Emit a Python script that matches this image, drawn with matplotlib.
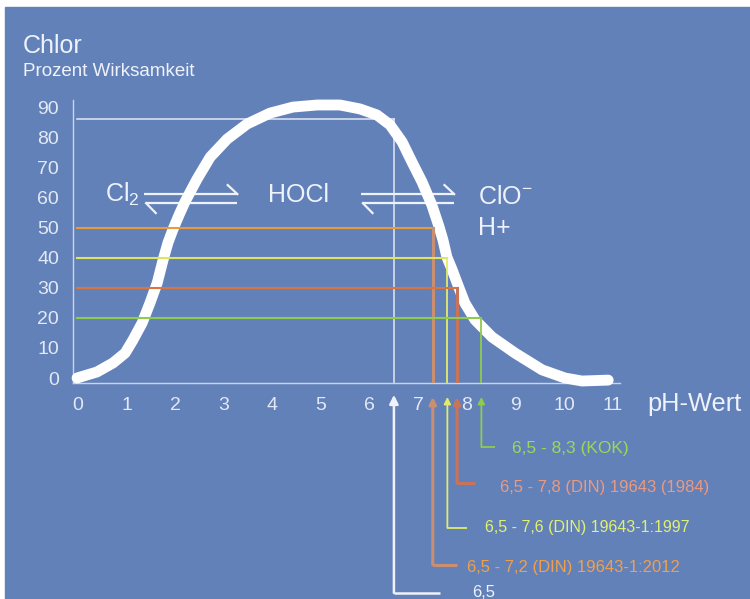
import matplotlib
matplotlib.use('Agg')
import matplotlib.pyplot as plt
from matplotlib.patches import Rectangle

plt.rcParams['font.family'] = ['Liberation Sans', 'DejaVu Sans']
plt.rcParams['mathtext.fontset'] = 'custom'
plt.rcParams['mathtext.rm'] = 'Liberation Sans'
plt.rcParams['mathtext.it'] = 'Liberation Sans'

# Wirksamkeit von Chlor (Prozent) ueber pH
ph = [-0.02, 0.39, 0.72, 0.97, 1.13, 1.32, 1.48, 1.63, 1.75, 1.85, 1.95, 2.08, 2.20,
      2.45, 2.72, 3.07, 3.48, 3.95, 4.42, 4.92, 5.39, 5.80, 6.15, 6.42, 6.67, 6.87,
      7.08, 7.28, 7.43, 7.51, 7.59, 7.70, 7.80, 7.96, 8.17, 8.52, 8.99, 9.55, 10.02,
      10.37, 10.91]
wirk = [0.0, 2.0, 5.0, 8.3, 12.6, 18.3, 24.9, 31.6, 39.2, 44.9, 49.2, 54.2, 58.5,
        66.1, 73.4, 79.4, 84.4, 88.0, 90.0, 90.7, 90.7, 89.4, 87.4, 84.1, 78.4, 71.8,
        65.1, 57.5, 50.2, 45.8, 40.2, 35.9, 31.6, 24.9, 19.3, 13.6, 8.3, 2.7, 0.0,
        -1.0, -0.7]

x_ticks = list(range(0, 12))
y_ticks = list(range(0, 100, 10))

# Grenzwerte: pH-Obergrenze, Wirksamkeit, Beschriftung
grenz_ph = [7.3, 7.6, 7.8, 8.3]
grenz_wirk = [50, 40, 30, 20]
grenz_text = ['6,5 - 7,2 (DIN) 19643-1:2012', '6,5 - 7,6 (DIN) 19643-1:1997',
              '6,5 - 7,8 (DIN) 19643 (1984)', '6,5 - 8,3 (KOK)']
untergrenze_ph = 6.5
untergrenze_wirk = 86

bg = '#6381b9'
weiss = '#eef2fa'
line_cols = ['#e89a3c', '#dde45e', '#d8763e', '#8fcc4c']
vert_cols = ['#c98f70', '#e0ec6a', '#c9745a', '#8fcc4c']
vert_lw = [2.2, 1.3, 2.2, 1.3]
text_cols = ['#f0a04c', '#e2f070', '#ea9a80', '#9ad858']
text_size = [12, 11.5, 12, 12.5]
# wie tief die Linien unter die Achse gehen, Hakenende, Textanfang (pH)
tief = [-62.1, -49.8, -34.9, -22.9]
text_tief = [-63.0, -49.8, -36.5, -23.3]
haken_ende = [7.8, 8.0, 8.17, 8.58]
text_x = [8.0, 8.37, 8.68, 8.93]

fig = plt.figure(figsize=(7.5, 5.99), dpi=100, facecolor='white')
fig.patches.append(Rectangle((5 / 750, 0), 745 / 750, 592 / 599,
                             transform=fig.transFigure, color=bg, zorder=-5))

ax = fig.add_axes([73 / 750, 1 - 383 / 599, (620 - 73) / 750, (383 - 100) / 599])
ax.set_facecolor('none')
ax.set_xlim(-0.103, 11.152)
ax.set_ylim(-1.66, 92.36)
for s in ['top', 'right']:
    ax.spines[s].set_visible(False)
for s in ['left', 'bottom']:
    ax.spines[s].set_color('#c8d4ec')
    ax.spines[s].set_linewidth(1)
ax.set_xticks(x_ticks)
ax.set_yticks(y_ticks)
ax.tick_params(length=0, colors='#e2e9f5', labelsize=14)
ax.tick_params(axis='x', pad=10)
ax.tick_params(axis='y', pad=10)

# Kurve
ax.plot(ph, wirk, color='white', lw=7.8, solid_capstyle='round', solid_joinstyle='round',
        clip_on=False, zorder=3)

# weisse Linie 6,5
ax.plot([ph[0], untergrenze_ph], [untergrenze_wirk, untergrenze_wirk], color='#dfe7f6', lw=1.1, zorder=2)
ax.plot([untergrenze_ph, untergrenze_ph], [untergrenze_wirk, -1.66], color='#dfe7f6', lw=1.1, zorder=2)
ax.annotate('', xy=(untergrenze_ph, -5.6), xytext=(untergrenze_ph, -71.4),
            arrowprops=dict(arrowstyle='-|>', color=weiss, lw=1.8, mutation_scale=13,
                            shrinkA=0, shrinkB=0), annotation_clip=False)
ax.plot([untergrenze_ph, 7.45], [-71.4, -71.4], color=weiss, lw=1.8,
        clip_on=False, solid_capstyle='butt')
ax.text(8.1, -71.4, '6,5', color=weiss, fontsize=12, va='center', clip_on=False)

for i in range(4):
    ax.plot([ph[0], grenz_ph[i]], [grenz_wirk[i], grenz_wirk[i]], color=line_cols[i], lw=1.5, zorder=4)
    ax.plot([grenz_ph[i], grenz_ph[i]], [grenz_wirk[i], -1.66], color=vert_cols[i], lw=vert_lw[i], zorder=4)
    ax.annotate('', xy=(grenz_ph[i], -6.3), xytext=(grenz_ph[i], tief[i]),
                arrowprops=dict(arrowstyle='-|>', color=vert_cols[i], lw=vert_lw[i],
                                mutation_scale=10, shrinkA=0, shrinkB=0), annotation_clip=False)
    ax.plot([grenz_ph[i], haken_ende[i]], [tief[i], tief[i]], color=vert_cols[i],
            lw=vert_lw[i], clip_on=False, solid_capstyle='butt')
    ax.text(text_x[i], text_tief[i], grenz_text[i], color=text_cols[i],
            fontsize=text_size[i], va='center', clip_on=False)

# Gleichgewichtspfeile
for x0 in [1.4, 5.86]:
    x1 = x0 + 1.88
    ax.plot([x0 - 0.04, x1], [61.1, 61.1], color=weiss, lw=1.6, solid_capstyle='butt', zorder=2)
    ax.plot([x1 - 0.2, x1], [64.1, 61.1], color=weiss, lw=1.6, zorder=2)
    ax.plot([x0, x1], [58.1, 58.1], color=weiss, lw=1.6, solid_capstyle='butt', zorder=2)
    ax.plot([x0, x0 + 0.2], [58.1, 54.8], color=weiss, lw=1.6, zorder=2)

ax.text(0.56, 58.5, r'Cl$_\mathregular{2}$', color=weiss, fontsize=18, va='baseline')
ax.text(3.91, 58.5, 'HOCl', color=weiss, fontsize=18, va='baseline')
ax.text(8.23, 57.8, r'ClO$^\mathregular{-}$', color=weiss, fontsize=18, va='baseline')
ax.text(8.23, 47.5, 'H+', color=weiss, fontsize=18, va='baseline')

fig.text(23 / 750, 1 - 53 / 599, 'Chlor', color=weiss, fontsize=18, va='baseline')
fig.text(23 / 750, 1 - 76 / 599, 'Prozent Wirksamkeit', color=weiss, fontsize=13.5, va='baseline')
fig.text(647 / 750, 1 - 404 / 599, 'pH-Wert', color=weiss, fontsize=18.3, va='center')

fig.savefig('out.png', dpi=100, facecolor='white')
